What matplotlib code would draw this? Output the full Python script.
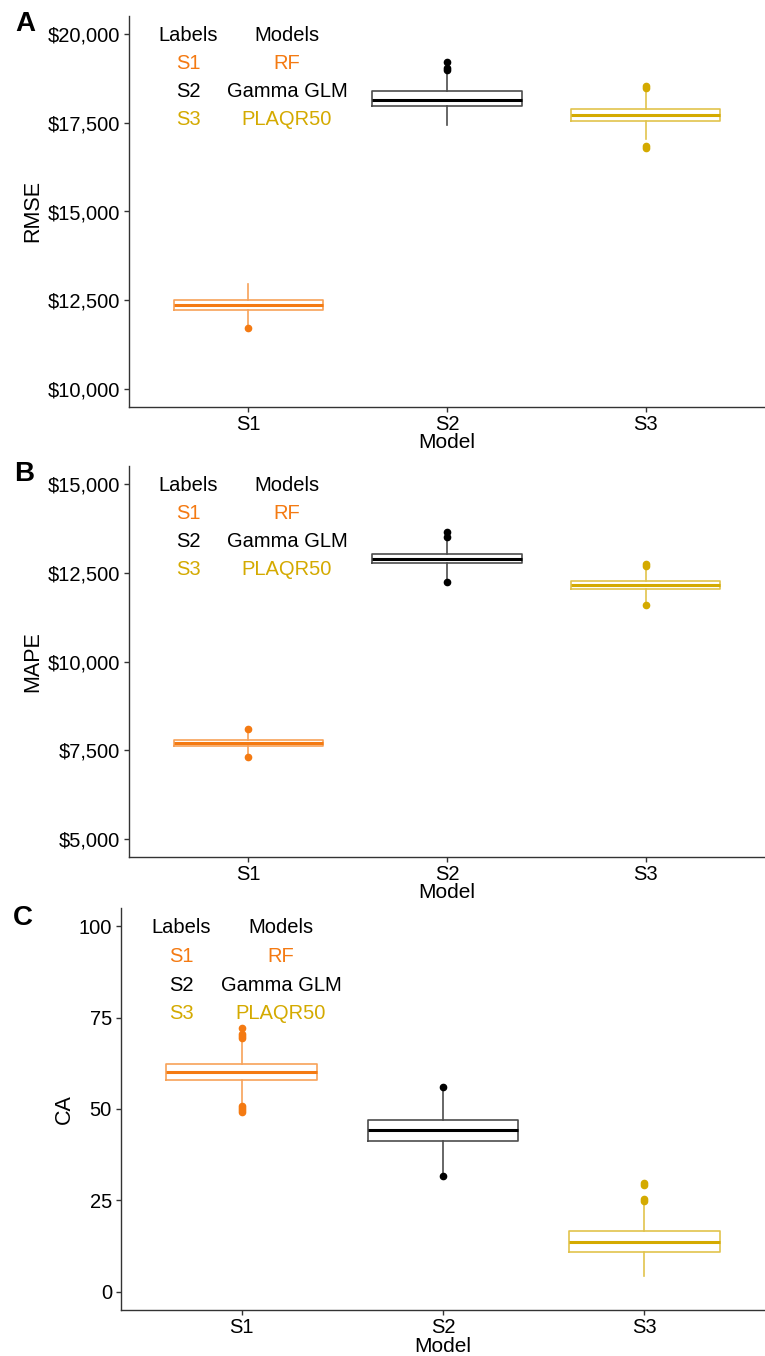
import matplotlib
matplotlib.use("Agg")
import matplotlib.pyplot as plt
from matplotlib.ticker import FuncFormatter

plt.rcParams["font.family"] = ["Liberation Sans", "DejaVu Sans"]

# Model groups on the x axis
groups = ["S1", "S2", "S3"]
model_names = ["RF", "Gamma GLM", "PLAQR50"]
group_colors = ["#F47A12", "#000000", "#D4AA00"]

# Box statistics per panel: q1, median, q3, lower whisker, upper whisker, outliers
rmse_q1 = [12240, 17980, 17560]
rmse_med = [12370, 18150, 17710]
rmse_q3 = [12510, 18380, 17880]
rmse_lo = [11790, 17420, 17050]
rmse_hi = [12960, 18900, 18430]
rmse_out = [[11720], [18980, 19050, 19200], [16800, 16850, 18480, 18530]]

mape_q1 = [7620, 12760, 12030]
mape_med = [7700, 12880, 12140]
mape_q3 = [7800, 13030, 12270]
mape_lo = [7380, 12320, 11660]
mape_hi = [8020, 13430, 12660]
mape_out = [[7300, 8100], [12250, 13500, 13650], [11600, 12700, 12740]]

ca_q1 = [57.8, 41.2, 11.0]
ca_med = [60.1, 44.2, 13.6]
ca_q3 = [62.2, 47.0, 16.5]
ca_lo = [51.5, 32.2, 4.4]
ca_hi = [68.5, 55.6, 24.4]
ca_out = [[49.2, 49.7, 50.3, 50.8, 69.4, 70.0, 70.5, 72.2], [31.7, 56.1],
          [24.9, 25.4, 29.2, 29.7]]

rmse_ticks = [10000, 12500, 15000, 17500, 20000]
mape_ticks = [5000, 7500, 10000, 12500, 15000]
ca_ticks = [0, 25, 50, 75, 100]

W, H = 765, 1356
fig = plt.figure(figsize=(W / 100, H / 100), dpi=100)


def px_axes(left, top, right, bottom):
    return fig.add_axes([left / W, 1 - bottom / H, (right - left) / W, (bottom - top) / H])


def light(c):
    r, g, b = matplotlib.colors.to_rgb(c)
    if c == "#000000":
        return (0.3, 0.3, 0.3)
    return (1 - 0.7 * (1 - r), 1 - 0.7 * (1 - g), 1 - 0.7 * (1 - b))


def draw_panel(ax, q1, med, q3, lo, hi, out, ticks, ylim, ylabel, fmt, ylab_x):
    for i in range(3):
        c = group_colors[i]
        stats = [dict(q1=q1[i], med=med[i], q3=q3[i], whislo=lo[i], whishi=hi[i],
                      fliers=out[i])]
        ax.bxp(stats, positions=[i + 1], widths=0.75, showcaps=False,
               boxprops=dict(color=light(c), linewidth=1.2),
               whiskerprops=dict(color=light(c), linewidth=1.2),
               medianprops=dict(color=c, linewidth=2.2),
               flierprops=dict(marker="o", markerfacecolor=c, markeredgecolor=c,
                               markersize=4.5, linestyle="none"))
    ax.set_xlim(0.4, 3.6)
    ax.set_ylim(*ylim)
    ax.set_xticks([1, 2, 3])
    ax.set_xticklabels(groups)
    ax.set_yticks(ticks)
    ax.yaxis.set_major_formatter(FuncFormatter(fmt))
    for s in ["top", "right"]:
        ax.spines[s].set_visible(False)
    for s in ["left", "bottom"]:
        ax.spines[s].set_color("#333333")
        ax.spines[s].set_linewidth(1.0)
    ax.tick_params(axis="both", labelsize=14.5, colors="#333333", length=3.5,
                   width=1.0, labelcolor="black", pad=3)
    ax.tick_params(axis="x", pad=2)
    ax.set_xlabel("Model", fontsize=15)
    ax.set_ylabel(ylabel, fontsize=15.5)
    ax.xaxis.set_label_coords(0.5, -0.066)
    ax.yaxis.set_label_coords(ylab_x, 0.5)

    # label / model key in the upper left corner
    tr = ax.get_xaxis_transform()
    ax.text(0.70, 0.951, "Labels", transform=tr, ha="center", va="center", fontsize=14.5)
    ax.text(1.195, 0.951, "Models", transform=tr, ha="center", va="center", fontsize=14.5)
    for i in range(3):
        y = 0.951 - (i + 1) * 0.0715
        ax.text(0.70, y, groups[i], transform=tr, ha="center", va="center",
                fontsize=14.5, color=group_colors[i])
        ax.text(1.195, y, model_names[i], transform=tr, ha="center", va="center",
                fontsize=14.5, color=group_colors[i])


dollars = lambda v, p: "${:,.0f}".format(v)
plain = lambda v, p: "{:.0f}".format(v)

ax1 = px_axes(129, 16, 765, 407)
draw_panel(ax1, rmse_q1, rmse_med, rmse_q3, rmse_lo, rmse_hi, rmse_out,
           rmse_ticks, (9500, 20500), "RMSE", dollars, -0.135)

ax2 = px_axes(129, 466, 765, 857)
draw_panel(ax2, mape_q1, mape_med, mape_q3, mape_lo, mape_hi, mape_out,
           mape_ticks, (4500, 15500), "MAPE", dollars, -0.135)

ax3 = px_axes(121, 908, 765, 1310)
draw_panel(ax3, ca_q1, ca_med, ca_q3, ca_lo, ca_hi, ca_out,
           ca_ticks, (-5, 105), "CA", plain, -0.071)

for letter, (x, y) in zip("ABC", [(25, 24), (24, 474), (23, 918)]):
    fig.text(x / W, 1 - y / H, letter, ha="center", va="center",
             fontsize=20, fontweight="bold")

fig.savefig("out.png", dpi=100)
